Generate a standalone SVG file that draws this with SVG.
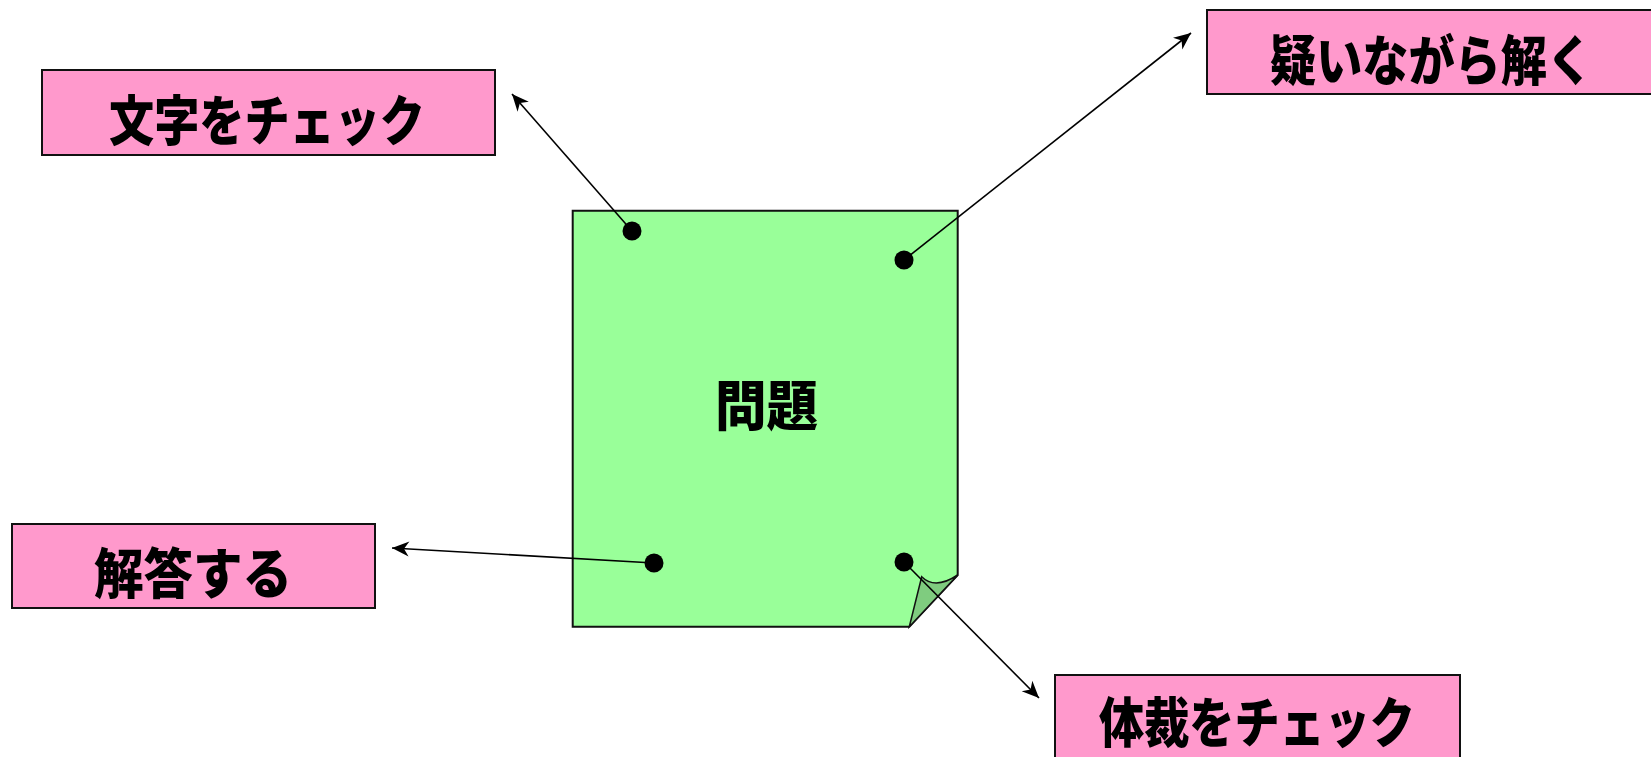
<svg xmlns="http://www.w3.org/2000/svg" width="1651" height="757" viewBox="0 0 1651 757">
<style>
.box{fill:#FF99CC;stroke:#111;stroke-width:2}
.lbl{font-family:"Noto Sans CJK JP","Noto Sans CJK SC",sans-serif;font-weight:900;font-size:54px;fill:#000;text-anchor:middle;dominant-baseline:central}
.note{fill:#99FF99;stroke:#111;stroke-width:2}
.curl{fill:#7FCC7F;stroke:#111;stroke-width:1.5}
.dot{fill:#000}
.conn{stroke:#000;stroke-width:1.6;fill:none;marker-end:url(#arr)}
</style>
<defs>
<marker id="arr" markerUnits="userSpaceOnUse" markerWidth="24" markerHeight="20" viewBox="-18 -10 20 20" refX="0" refY="0" orient="auto">
<path d="M0,0 L-17,-7.5 L-12,0 L-17,7.5 Z" fill="#000"/>
</marker>
</defs>
<g id="node-moji">
<rect class="box" x="42" y="70" width="453" height="85"/>
<text class="lbl" x="267" y="117" textLength="316" lengthAdjust="spacingAndGlyphs">文字をチェック</text>
</g>
<g id="node-utagai">
<rect class="box" x="1207" y="10" width="450" height="84"/>
<text class="lbl" x="1431.5" y="57" textLength="323" lengthAdjust="spacingAndGlyphs">疑いながら解く</text>
</g>
<g id="node-kaitou">
<rect class="box" x="12" y="524" width="363" height="84"/>
<text class="lbl" x="193" y="570" textLength="198" lengthAdjust="spacingAndGlyphs">解答する</text>
</g>
<g id="node-teisai">
<rect class="box" x="1055" y="675" width="405" height="90"/>
<text class="lbl" x="1257" y="719" font-size="52" textLength="316" lengthAdjust="spacingAndGlyphs">体裁をチェック</text>
</g>
<g id="node-mondai">
<path class="note" d="M572.7,210.7 H957.7 V575 L909.3,626.7 H572.7 Z"/>
<path class="curl" d="M921.7,576.7 L909.3,626.7 L957.7,575 Q935,590 921.7,576.7 Z"/>
<text class="lbl" x="766.5" y="402.5" textLength="103" lengthAdjust="spacingAndGlyphs">問題</text>
</g>
<g id="connectors">
<line class="conn" x1="632" y1="231" x2="512" y2="94"/>
<line class="conn" x1="904" y1="260" x2="1191" y2="33"/>
<line class="conn" x1="654" y1="563" x2="392" y2="548"/>
<line class="conn" x1="904" y1="562" x2="1039" y2="698"/>
<circle class="dot" cx="632" cy="231" r="9.5"/>
<circle class="dot" cx="904" cy="260" r="9.5"/>
<circle class="dot" cx="654" cy="563" r="9.5"/>
<circle class="dot" cx="904" cy="562" r="9.5"/>
</g>
</svg>
